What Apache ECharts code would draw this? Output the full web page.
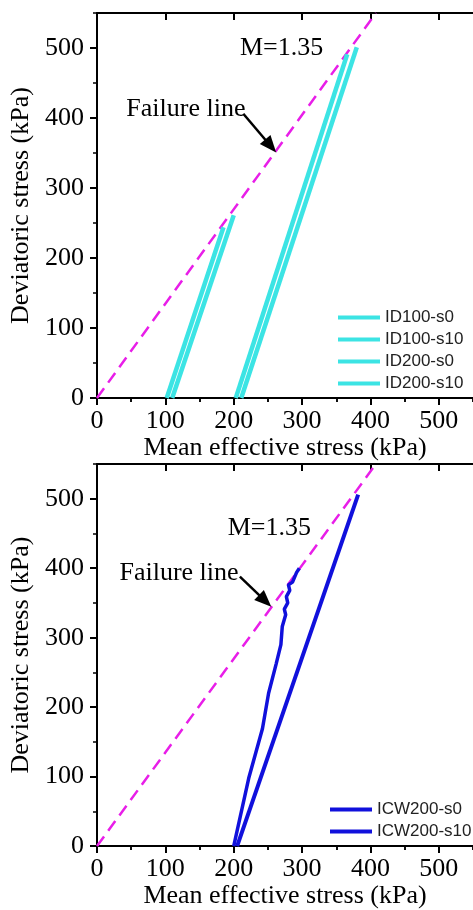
<!DOCTYPE html>
<html>
<head>
<meta charset="utf-8">
<script src="https://cdn.jsdelivr.net/npm/echarts@6/dist/echarts.min.js"></script>
<style>
  html, body { margin: 0; padding: 0; background: #fff; }
  #chart { width: 473px; height: 910px; }
</style>
</head>
<body>
<div id="chart"></div>
<script>
// tick values (both axes, both panels)
const majorTicks = [0, 100, 200, 300, 400, 500];

// failure line q = 1.35 p
const failureLine = [[0, 0], [408, 550]];

// top panel: [p, q]
const id100s0 = [[102, 0], [185, 244]];
const id100s10 = [[110, 0], [200, 261]];
const id200s0 = [[203, 0], [366, 491]];
const id200s10 = [[211, 0], [380, 501]];

// bottom panel
const icw200s0 = [[205, 0], [382, 506]];
const icw200s10 = [[200, 0], [222, 98], [242, 169], [251, 220], [262, 262], [269, 290],
  [271, 316], [276, 333], [274, 341], [279, 350], [277, 359], [282, 368], [280, 376],
  [286, 380], [292, 394], [296, 400]];

const topNames = ["ID100-s0", "ID100-s10", "ID200-s0", "ID200-s10"];
const bottomNames = ["ICW200-s0", "ICW200-s10"];

const CYAN = "#3ce4e4";
const BLUE = "#1010dc";
const MAGENTA = "#e81ee8";
const SERIF = "Liberation Serif";

let black = { color: "#000", width: 2 };

function xAxes(g) {
  return [
    {
      gridIndex: g, type: "value", min: 0, max: 550, position: "bottom",
      axisLine: { onZero: false, lineStyle: black },
      axisTick: { customValues: majorTicks, length: 7, lineStyle: black },
      axisLabel: { customValues: majorTicks, margin: 10, color: "#000", fontFamily: SERIF, fontSize: 26 },
      splitLine: { show: false },
      name: "Mean effective stress (kPa)", nameLocation: "middle", nameGap: 35,
      nameTextStyle: { color: "#000", fontFamily: SERIF, fontSize: 26 }
    },
    {
      gridIndex: g, type: "value", min: 0, max: 550, interval: 50, position: "bottom",
      axisLine: { show: false },
      axisTick: { length: 4, lineStyle: { color: "#000", width: 1.5 } },
      axisLabel: { show: false }, splitLine: { show: false }
    },
    {
      gridIndex: g, type: "value", min: 0, max: 550, position: "top",
      axisLine: { onZero: false, lineStyle: black },
      axisTick: { customValues: majorTicks, inside: true, length: 7, lineStyle: black },
      axisLabel: { show: false }, splitLine: { show: false }
    },
    {
      gridIndex: g, type: "value", min: 0, max: 550, interval: 50, position: "top",
      axisLine: { show: false },
      axisTick: { inside: true, length: 4, lineStyle: { color: "#000", width: 1.5 } },
      axisLabel: { show: false }, splitLine: { show: false }
    }
  ];
}

function yAxes(g) {
  return [
    {
      gridIndex: g, type: "value", min: 0, max: 550, position: "left",
      axisLine: { onZero: false, lineStyle: black },
      axisTick: { customValues: majorTicks, length: 7, lineStyle: black },
      axisLabel: { customValues: majorTicks, margin: 13, color: "#000", fontFamily: SERIF, fontSize: 26 },
      splitLine: { show: false },
      name: "Deviatoric stress (kPa)", nameLocation: "middle", nameGap: 58,
      nameTextStyle: { color: "#000", fontFamily: SERIF, fontSize: 26 }
    },
    {
      gridIndex: g, type: "value", min: 0, max: 550, interval: 50, position: "left",
      axisLine: { show: false },
      axisTick: { length: 4, lineStyle: { color: "#000", width: 1.5 } },
      axisLabel: { show: false }, splitLine: { show: false }
    }
  ];
}

function line(name, data, g, color, width) {
  return {
    name: name, type: "line", data: data,
    xAxisIndex: g * 4, yAxisIndex: g * 2,
    symbol: "none", lineStyle: { color: color, width: width }, itemStyle: { color: color },
    z: 3
  };
}

function failure(g, textM, textF, arrow) {
  return {
    type: "line", data: failureLine, xAxisIndex: g * 4, yAxisIndex: g * 2,
    symbol: "none", silent: true, z: 2,
    lineStyle: { color: MAGENTA, width: 2.5, type: [12, 7] },
    markPoint: {
      symbolSize: 0, silent: true,
      label: { show: true, position: "inside", formatter: "{b}", color: "#000", fontFamily: SERIF, fontSize: 26 },
      data: [
        { name: "M=1.35", coord: textM },
        { name: "Failure line", coord: textF }
      ]
    },
    markLine: {
      silent: true, symbol: ["none", "triangle"], symbolSize: [14, 17],
      label: { show: false },
      lineStyle: { color: "#000", width: 2.5, type: "solid" },
      data: [[{ coord: arrow[0] }, { coord: arrow[1] }]]
    }
  };
}

let chart = echarts.init(document.getElementById("chart"));
let option = {
  animation: false,
  backgroundColor: "#fff",
  grid: [
    { left: 97, top: 13, width: 385, height: 385 },
    { left: 97, top: 464, width: 385, height: 384 }
  ],
  xAxis: xAxes(0).concat(xAxes(1)),
  yAxis: yAxes(0).concat(yAxes(1)),
  legend: [
    {
      data: topNames, left: 333, top: 304, orient: "vertical",
      icon: "rect", itemWidth: 42, itemHeight: 4, itemGap: 5,
      textStyle: { color: "#222", fontFamily: "Liberation Sans", fontSize: 17, lineHeight: 17 }
    },
    {
      data: bottomNames, left: 325, top: 796, orient: "vertical",
      icon: "rect", itemWidth: 42, itemHeight: 4, itemGap: 5,
      textStyle: { color: "#222", fontFamily: "Liberation Sans", fontSize: 17, lineHeight: 17 }
    }
  ],
  series: [
    failure(0, [270, 500], [130, 412], [[214, 406], [254, 360]]),
    line(topNames[0], id100s0, 0, CYAN, 4.5),
    line(topNames[1], id100s10, 0, CYAN, 4.5),
    line(topNames[2], id200s0, 0, CYAN, 4.5),
    line(topNames[3], id200s10, 0, CYAN, 4.5),
    failure(1, [252, 458], [120, 393], [[209, 388], [246, 353]]),
    line(bottomNames[0], icw200s0, 1, BLUE, 4),
    line(bottomNames[1], icw200s10, 1, BLUE, 3.5)
  ]
};
chart.setOption(option);
window.addEventListener("resize", function() {
  chart.resize();
});
</script>
</body>
</html>
